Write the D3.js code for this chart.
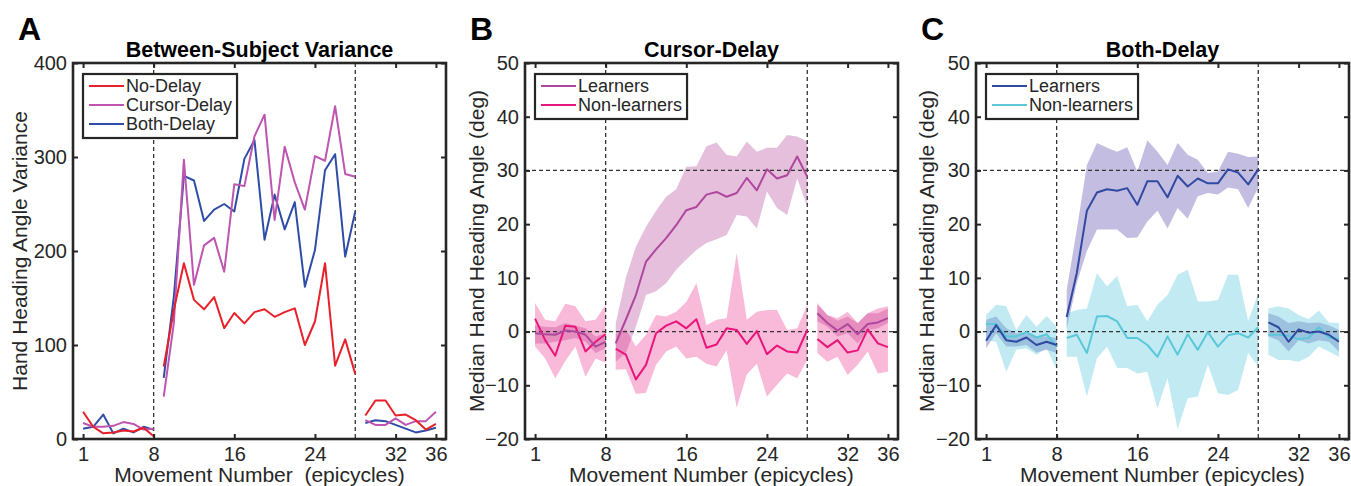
<!DOCTYPE html>
<html>
<head>
<meta charset="utf-8">
<script src="https://cdn.jsdelivr.net/npm/d3@7"></script>
<style>
  body { margin: 0; background: #fff; }
  svg { display: block; font-family: "Liberation Sans", Arial, Helvetica, sans-serif; }
</style>
</head>
<body>
<div id="chart"></div>
<script>
// movement numbers 1..36, three blocks with gaps between them
var movements = d3.range(1, 37);
var blocks = [[1, 8], [9, 28], [29, 36]];
var xTicks = [1, 8, 16, 24, 32, 36];
var yTicksA = [0, 100, 200, 300, 400];
var yTicksBC = [-20, -10, 0, 10, 20, 30, 40, 50];

// Panel A: between-subject variance
var noDelay = [29, 13, 6, 7, 9, 8, 12, 3,
  77, 137, 187, 148, 138, 151, 118, 134, 123, 135, 138, 130, 135, 139, 100, 125, 187, 78, 106, 69,
  25, 41, 41, 25, 26, 20, 10, 16];
var cursorDelay = [17, 13, 13, 14, 18, 16, 10, 11,
  45, 123, 297, 164, 206, 214, 178, 271, 269, 322, 345, 233, 311, 273, 244, 301, 296, 354, 282, 279,
  20, 15, 15, 22, 15, 19, 19, 29];
var bothDelay = [11, 13, 26, 6, 11, 7, 13, 10,
  65, 151, 280, 275, 232, 244, 250, 242, 298, 318, 212, 260, 223, 252, 162, 201, 286, 303, 194, 242,
  17, 20, 19, 15, 11, 7, 9, 12];

// Panel B: cursor-delay, median and band
var bLearn = [-0.3, -0.5, -0.6, 0.2, 0, -0.6, -2.8, -1.9,
  -2.2, 2.2, 6.8, 13.0, 15.3, 17.4, 19.8, 22.6, 23.2, 25.5, 26.0, 25.1, 25.8, 28.6, 26.3, 30.2, 28.5, 29.1, 32.6, 28.8,
  3.4, 1.6, 0.2, 1.4, -0.5, 1.4, 1.7, 2.5];
var bLearnHi = [1.2, 0.9, 0.8, 1.6, 1.1, 0.6, -0.9, -0.3,
  1.5, 10, 15.8, 19.5, 22.5, 25.1, 26.5, 30.7, 30.8, 34.5, 35.2, 32.9, 32.6, 35.4, 33.5, 34.2, 34.2, 36.6, 36.3, 35.4,
  5.0, 3.1, 2.0, 2.8, 1.6, 3.4, 3.4, 4.3];
var bLearnLo = [-2.2, -2.2, -1.9, -1.6, -1.2, -1.9, -4.0, -3.1,
  -5.6, -4.0, 0.9, 6.8, 7.5, 9.0, 11.5, 13.4, 15.2, 16.5, 17.2, 18.0, 21.7, 21.4, 19.2, 26.1, 23.0, 21.7, 28.5, 23.3,
  1.9, 0.9, -0.9, -0.3, -2.2, 0.3, 0.6, 1.6];
var bNon = [2.4, -1.6, -4.5, 1.1, 0.9, -3.7, -1.9, -0.5,
  -3.2, -4.3, -8.9, -6.2, -0.3, 1.1, 1.9, 0.6, 2.3, -3.0, -2.4, 0.6, 0.3, -2.3, 0.1, -4.2, -2.6, -3.7, -3.9, 0.3,
  -1.4, -2.9, -1.6, -3.9, -3.5, 0.4, -2.2, -2.9];
var bNonHi = [5.3, 2.2, 1.9, 5.2, 4.7, 1.9, 2.2, 5.0,
  -0.5, 0.5, -2.8, -0.6, 3.1, 2.8, 3.7, 5.5, 9.0, 1.2, 2.2, 2.5, 14.6, 2.2, 3.7, 4.0, 4.0, 0.3, 0.6, 5.0,
  5.3, 3.1, 2.5, 3.7, 1.6, 3.4, 4.3, 4.7];
var bNonLo = [-2.8, -5, -8.7, -5.5, -2.8, -8.4, -5, -5.8,
  -7.1, -7.0, -11.6, -11.4, -6.2, -3.7, -2.8, -5.0, -4.7, -6.0, -6.5, -3.5, -14.2, -8.0, -6.0, -12.1, -9.9, -7.8, -8.7, -5.3,
  -4.0, -5.6, -4.7, -8.1, -6.2, -3.7, -7.8, -7.5];

// Panel C: both-delay, median and band
var cLearn = [-1.7, 1.2, -1.6, -1.9, -1.1, -2.5, -1.9, -2.5,
  2.7, 10.9, 22.5, 25.9, 26.5, 26.2, 26.7, 23.6, 28.0, 28.0, 25.0, 29.0, 27.0, 28.5, 27.6, 27.6, 30.2, 29.6, 27.4, 30.2,
  1.7, 0.8, -1.9, 0.4, -0.2, 0, -0.6, -1.9];
var cLearnHi = [2.2, 2.8, 0.6, -0.3, -0.3, -0.9, -0.9, -1.2,
  7.8, 19, 31.0, 35.1, 34.2, 33.5, 34.3, 29.8, 35.6, 33.5, 31.0, 35.1, 32.9, 32.0, 29.5, 29.8, 33.5, 33.1, 32.5, 32.6,
  3.4, 2.8, 1.6, 1.9, 1.6, 1.7, 1.2, 0.3];
var cLearnLo = [-3.1, -0.3, -2.8, -2.8, -2.5, -3.9, -3.4, -4.0,
  0.5, 9.0, 15.0, 19.0, 19.0, 19.0, 17.4, 17.5, 20.5, 22.5, 19.2, 23.0, 21.0, 25.2, 25.8, 25.5, 26.8, 26.5, 23.0, 26.8,
  -0.9, -1.6, -3.7, -1.6, -2.2, -1.6, -1.9, -3.7];
var cNon = [1.4, 1.4, -0.9, -0.9, -0.1, -1.1, -0.5, -2.8,
  -1.2, -0.6, -4.0, 2.8, 2.9, 1.9, -1.2, -1.2, -2.5, -4.7, -0.9, -4.3, -0.5, -3.4, -0.1, -2.8, -0.7, -0.3, -1.1, 0.8,
  -0.6, -0.6, -0.8, -1.4, -1.2, 0.8, -1.1, -1.4];
var cNonHi = [3.1, 5.0, 4.7, 0.3, 3.1, 0.9, 2.9, 0.9,
  3.4, 4.0, 4.3, 10.9, 8.4, 10.4, 4.7, 5.0, 1.9, 5.0, 6.8, 10.6, 11.5, 5.6, 5.6, 5.9, 10.6, 10.6, 1.9, 7.1,
  4.3, 4.7, 4.3, 3.1, 2.3, 3.9, 1.7, 1.6];
var cNonLo = [-1.6, -1.9, -7.5, -3.4, -3.1, -4.3, -3.1, -7.1,
  -4.7, -4.7, -12.1, -5.0, -2.8, -6.8, -6.8, -7.8, -7.5, -14.3, -8.7, -18.2, -12.4, -12.1, -6.2, -11.5, -11.8, -10.9, -4.0, -6.5,
  -4.3, -5.3, -5.3, -5.6, -4.7, -2.8, -3.7, -4.7];

var svgWidth = 1351;
var svgHeight = 486;
var plotTop = 63, plotW = 373, plotH = 376;
var ink = "#262626";

var svg = d3.select("#chart").append("svg")
  .attr("width", svgWidth)
  .attr("height", svgHeight);

var panels = [
  {
    left: 73, letter: "A", title: "Between-Subject Variance",
    ylabel: "Hand Heading Angle Variance", ylabelX: -53,
    xlabel: "Movement Number  (epicycles)",
    domain: [0, 400], yTicks: yTicksA, hlines: [],
    bands: [],
    lines: [
      {name: "No-Delay", values: noDelay, color: "#E8202A"},
      {name: "Cursor-Delay", values: cursorDelay, color: "#BE55B0"},
      {name: "Both-Delay", values: bothDelay, color: "#2F4DA6"}
    ]
  },
  {
    left: 525, letter: "B", title: "Cursor-Delay",
    ylabel: "Median Hand Heading Angle (deg)", ylabelX: -48,
    xlabel: "Movement Number (epicycles)",
    domain: [-20, 50], yTicks: yTicksBC, hlines: [0, 30],
    bands: [
      {hi: bLearnHi, lo: bLearnLo, color: "#B5479B", opacity: 0.35},
      {hi: bNonHi, lo: bNonLo, color: "#EC2A8A", opacity: 0.33}
    ],
    lines: [
      {name: "Learners", values: bLearn, color: "#B0479E"},
      {name: "Non-learners", values: bNon, color: "#E8157A"}
    ]
  },
  {
    left: 976, letter: "C", title: "Both-Delay",
    ylabel: "Median Hand Heading Angle (deg)", ylabelX: -49,
    xlabel: "Movement Number (epicycles)",
    domain: [-20, 50], yTicks: yTicksBC, hlines: [0, 30],
    bands: [
      {hi: cLearnHi, lo: cLearnLo, color: "#6A5DB5", opacity: 0.4},
      {hi: cNonHi, lo: cNonLo, color: "#5BC8E0", opacity: 0.38}
    ],
    lines: [
      {name: "Learners", values: cLearn, color: "#2F4AA0"},
      {name: "Non-learners", values: cNon, color: "#5BC8DA"}
    ]
  }
];

panels.forEach(function(p) {
  var g = svg.append("g").attr("transform", `translate(${p.left}, ${plotTop})`);

  var x = d3.scaleLinear().domain([0, 37]).range([0, plotW]);
  var y = d3.scaleLinear().domain(p.domain).range([plotH, 0]);

  // bands, one polygon per block
  p.bands.forEach(function(b) {
    var area = d3.area()
      .x(function(i) { return x(movements[i]); })
      .y0(function(i) { return y(b.lo[i]); })
      .y1(function(i) { return y(b.hi[i]); });
    blocks.forEach(function(bl) {
      g.append("path")
        .attr("d", area(d3.range(bl[0] - 1, bl[1])))
        .attr("fill", b.color)
        .attr("fill-opacity", b.opacity);
    });
  });

  // dashed reference lines
  [8, 28].forEach(function(v) {
    g.append("line")
      .attr("x1", x(v)).attr("x2", x(v))
      .attr("y1", 0).attr("y2", plotH)
      .attr("stroke", "#333").attr("stroke-width", 1.3)
      .attr("stroke-dasharray", "4,3");
  });
  p.hlines.forEach(function(v) {
    g.append("line")
      .attr("x1", 0).attr("x2", plotW)
      .attr("y1", y(v)).attr("y2", y(v))
      .attr("stroke", "#333").attr("stroke-width", 1.3)
      .attr("stroke-dasharray", "4,3");
  });

  // median lines
  var line = d3.line()
    .x(function(d) { return x(d.m); })
    .y(function(d) { return y(d.v); });
  p.lines.slice().reverse().forEach(function(l) {
    blocks.forEach(function(bl) {
      var pts = d3.range(bl[0] - 1, bl[1]).map(function(i) { return {m: movements[i], v: l.values[i]}; });
      g.append("path")
        .attr("d", line(pts))
        .attr("fill", "none")
        .attr("stroke", l.color)
        .attr("stroke-width", 2)
        .attr("stroke-linejoin", "round");
    });
  });

  // axes, ticks inward on all four sides
  g.append("g").attr("transform", `translate(0, ${plotH})`)
    .call(d3.axisBottom(x).tickValues(xTicks).tickSizeInner(-5).tickSizeOuter(0).tickPadding(8));
  g.append("g")
    .call(d3.axisTop(x).tickValues(xTicks).tickSizeInner(-5).tickSizeOuter(0).tickFormat(""));
  g.append("g")
    .call(d3.axisLeft(y).tickValues(p.yTicks).tickSizeInner(-5).tickSizeOuter(0).tickPadding(6));
  g.append("g").attr("transform", `translate(${plotW}, 0)`)
    .call(d3.axisRight(y).tickValues(p.yTicks).tickSizeInner(-5).tickSizeOuter(0).tickFormat(""));

  g.selectAll(".domain").remove();
  g.selectAll(".tick line").attr("stroke", ink).attr("stroke-width", 2);
  g.selectAll(".tick text")
    .attr("fill", ink)
    .style("font-size", "20px")
    .style("font-family", "Liberation Sans, Arial, sans-serif");

  // frame
  g.append("rect")
    .attr("width", plotW).attr("height", plotH)
    .attr("fill", "none").attr("stroke", ink).attr("stroke-width", 2.6);

  // legend
  var leg = g.append("g").attr("transform", "translate(10, 11)");
  var box = leg.append("rect")
    .attr("fill", "#fff").attr("stroke", ink).attr("stroke-width", 2.2);
  var maxW = 0;
  p.lines.forEach(function(l, i) {
    var ry = 12 + i * 19;
    leg.append("line")
      .attr("x1", 6).attr("x2", 41)
      .attr("y1", ry).attr("y2", ry)
      .attr("stroke", l.color).attr("stroke-width", 2.2);
    var t = leg.append("text")
      .attr("x", 43).attr("y", ry)
      .attr("dy", "0.35em")
      .attr("fill", ink)
      .style("font-size", "18px")
      .text(l.name);
    maxW = Math.max(maxW, t.node().getComputedTextLength());
  });
  box.attr("width", 43 + maxW + 5).attr("height", 6 + p.lines.length * 19 + 1);

  // title, labels
  g.append("text")
    .attr("x", plotW / 2).attr("y", -6)
    .attr("text-anchor", "middle")
    .attr("fill", "#000")
    .style("font-size", "21.5px").style("font-weight", "bold")
    .text(p.title);

  g.append("text")
    .attr("x", plotW / 2).attr("y", plotH + 43)
    .attr("text-anchor", "middle")
    .attr("fill", ink)
    .style("font-size", "21px")
    .style("white-space", "pre")
    .text(p.xlabel);

  g.append("text")
    .attr("transform", `translate(${p.ylabelX}, ${plotH / 2}) rotate(-90)`)
    .attr("text-anchor", "middle")
    .attr("dy", "0.35em")
    .attr("fill", ink)
    .style("font-size", "21px")
    .text(p.ylabel);

  svg.append("text")
    .attr("x", p.left - 55).attr("y", 40)
    .attr("fill", "#000")
    .style("font-size", "32px").style("font-weight", "bold")
    .text(p.letter);
});
</script>
</body>
</html>
